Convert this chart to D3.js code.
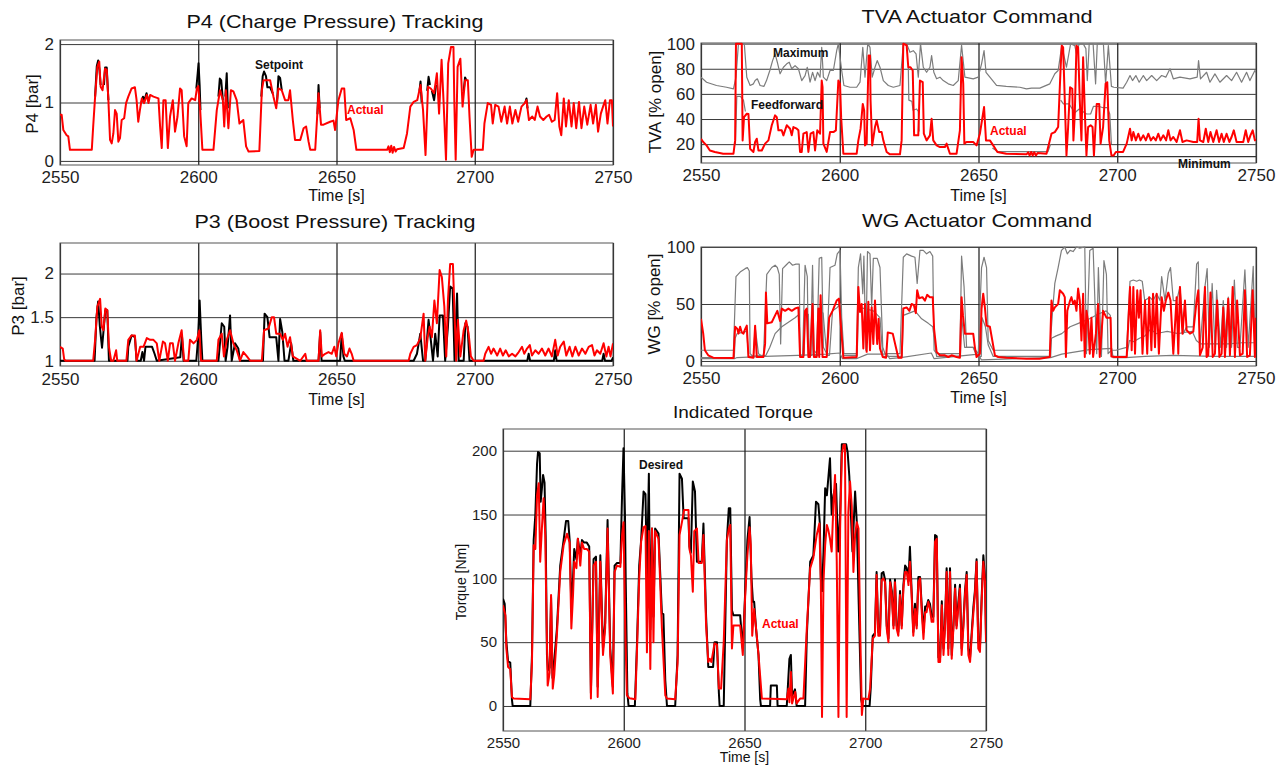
<!DOCTYPE html>
<html>
<head>
<meta charset="utf-8">
<script src="https://cdn.jsdelivr.net/npm/d3@7"></script>
<style>
  body { margin: 0; background: #fff; }
  text { font-family: "Liberation Sans", Arial, sans-serif; }
</style>
</head>
<body>
<div id="chart"></div>
<script>
// Data, [time s, value]

var timeTicks = [2550, 2600, 2650, 2700, 2750];
var p4Ticks = [0, 1, 2];
var p3Ticks = [1, 1.5, 2];
var tvaTicks = [20, 40, 60, 80, 100];
var wgTicks = [0, 50, 100];
var torqueTicks = [0, 50, 100, 150, 200];

var p4Actual = [[2550,0.79],[2550.6,0.79],[2551.2,0.53],[2552.4,0.44],[2553,0.42],[2553.6,0.19],[2561.5,0.19],[2562,0.59],[2562.7,1.1],[2563.5,1.61],[2564.2,1.7],[2564.7,1.27],[2565.4,1.21],[2566.3,1.58],[2566.9,1.56],[2567.5,1.04],[2568.1,0.36],[2568.7,0.30],[2569.3,0.47],[2569.9,0.87],[2570.5,0.81],[2571.1,0.33],[2571.7,0.39],[2572.3,0.70],[2573.2,0.73],[2573.9,0.99],[2574.7,1.10],[2575.9,1.24],[2577.1,1.26],[2577.7,1.04],[2578.3,0.67],[2578.9,0.87],[2579.6,1.07],[2580.4,0.99],[2581.4,1.13],[2582,0.99],[2582.6,1.13],[2583.8,1.10],[2585.6,1.07],[2586.2,0.59],[2586.8,0.22],[2587.4,1.04],[2588.2,1.04],[2589,0.22],[2589.8,0.76],[2590.8,1.04],[2591.6,0.50],[2592.5,0.76],[2593.4,1.24],[2594,1.21],[2594.9,0.42],[2595.8,0.25],[2596.4,0.99],[2597.6,1.07],[2598.9,1.04],[2599.5,1.24],[2600,1.28],[2600.7,0.87],[2601.5,0.19],[2605.5,0.19],[2606.7,0.87],[2607.9,1.21],[2608.9,1.04],[2609.4,0.59],[2610,1.21],[2610.9,0.56],[2611.8,1.21],[2612.7,1.19],[2613.9,1.04],[2614.9,0.64],[2616.3,0.70],[2617.3,0.25],[2618.2,0.16],[2622.1,0.17],[2623,1.21],[2623.6,1.38],[2626,1.38],[2627.2,1.10],[2628.2,0.90],[2629,1.24],[2630.2,1.21],[2631.4,1.04],[2632.6,1.04],[2633.2,1.21],[2634.2,0.70],[2635,0.36],[2636.9,0.36],[2638.1,0.56],[2639,0.59],[2639.9,0.33],[2640.5,0.19],[2642.3,0.19],[2643.5,1.16],[2644.4,0.62],[2645.3,0.62],[2647.7,0.67],[2648.9,0.69],[2649.5,0.53],[2650.7,1.04],[2651.9,1.24],[2652.8,1.24],[2653.5,0.70],[2655,0.73],[2656.2,0.53],[2657.2,0.19],[2668.3,0.19],[2668.8,0.25],[2669.3,0.15],[2669.8,0.26],[2670.3,0.14],[2670.8,0.24],[2671.4,0.16],[2671.9,0.2],[2674.3,0.22],[2675.5,0.47],[2676.7,0.93],[2677.9,1.01],[2679.2,1.04],[2680.4,1.30],[2681.3,0.87],[2682.2,0.10],[2683.1,1.27],[2684.1,1.24],[2685.3,1.16],[2686.3,1.5],[2687.1,0.81],[2688,1.73],[2688.7,1.04],[2689.6,0.02],[2690.4,1.67],[2691.4,1.95],[2692.3,1.95],[2692.6,1.04],[2693.1,0.02],[2693.8,1.61],[2694.8,1.75],[2695.6,0.93],[2696.5,1.38],[2697.5,1.38],[2698.1,0.76],[2698.9,0.07],[2699.6,0.19],[2702.9,0.19],[2703.5,0.64],[2704.7,0.99],[2705.9,0.96],[2706.5,0.64],[2707.4,0.96],[2708.6,0.93],[2709.6,0.67],[2710.8,0.93],[2711.7,0.64],[2712.7,0.93],[2713.6,0.64],[2714.7,0.87],[2715.7,0.67],[2716.9,0.93],[2718.1,0.99],[2718.7,1.04],[2719.6,0.70],[2720.8,0.76],[2721.7,0.70],[2722.7,0.93],[2723.6,0.76],[2724.8,0.70],[2726,0.76],[2726.9,0.79],[2727.9,0.67],[2728.9,0.70],[2729.8,1.16],[2730.6,0.59],[2731.3,0.44],[2732.2,1.07],[2733,0.59],[2734,1.04],[2735,0.59],[2735.8,0.99],[2736.7,0.56],[2737.7,1.01],[2738.6,0.56],[2739.6,0.93],[2740.7,0.62],[2741.9,0.96],[2742.8,0.64],[2743.8,0.96],[2744.6,0.50],[2745.6,0.81],[2746.4,0.93],[2747.2,1.04],[2748,0.64],[2748.9,1.04],[2749.6,1.04],[2750,0.59]];

// setpoint: only the pieces that show above / beside the actual trace
var p4SetpointParts = [
  [[2562.7,1.1],[2563.3,1.62],[2563.8,1.72],[2564.3,1.55],[2564.7,1.3]],
  [[2565.9,1.3],[2566.3,1.6],[2566.9,1.6],[2567.5,1.04]],
  [[2579.4,1.0],[2580,1.1],[2580.5,1.03],[2581.3,1.16],[2582,1.03]],
  [[2599.3,1.24],[2599.8,1.5],[2600.1,1.67],[2600.5,1.3],[2600.8,0.87]],
  [[2607.3,1.1],[2607.8,1.41],[2608.3,1.38],[2608.9,1.04]],
  [[2609.8,1.1],[2610.3,1.5],[2610.7,0.9]],
  [[2622.8,1.1],[2623.3,1.45],[2623.8,1.53],[2624.5,1.45],[2625,1.26],[2626,1.26],[2627,1.15]],
  [[2628.5,1.0],[2629,1.45],[2629.6,1.42],[2630.2,1.21]],
  [[2643.1,0.8],[2643.5,1.3],[2643.9,0.9]],
  [[2680,1.2],[2680.4,1.36],[2680.8,1.0]],
  [[2682.8,1.2],[2683.3,1.44],[2683.8,1.3]],
  [[2684.5,1.2],[2685.3,1.04],[2686,1.3]],
  [[2696,1.2],[2696.5,1.43],[2697,1.38]],
  [[2718.3,1.0],[2718.7,1.07],[2719.1,0.9]]
];

var p3Actual = [[2550,1.16],[2551,1.14],[2551.5,1.02],[2552,1.0],[2562,1.0],[2562.7,1.24],[2563.5,1.62],[2564.5,1.71],[2565.1,1.39],[2565.7,1.35],[2566.4,1.6],[2567.1,1.58],[2567.7,1.16],[2568.5,1.0],[2569.3,1.0],[2570.3,1.12],[2570.7,1.0],[2574,1.0],[2574.7,1.24],[2575.9,1.29],[2577.1,1.29],[2577.7,1.0],[2579,1.16],[2580.2,1.16],[2581.4,1.26],[2582.6,1.24],[2583.8,1.24],[2585,1.2],[2585.9,1.0],[2587.2,1.22],[2588,1.2],[2589,1.0],[2589.8,1.2],[2590.8,1.2],[2591.6,1.0],[2592.8,1.2],[2594,1.35],[2594.9,1.0],[2596.4,1.0],[2597,1.24],[2598.3,1.2],[2599.5,1.24],[2600.4,1.35],[2601,1.0],[2606.7,1.0],[2607.3,1.24],[2608.5,1.31],[2609.3,1.05],[2610.3,1.24],[2611.5,1.35],[2612.7,1.2],[2613.9,1.12],[2615.1,1.0],[2616.3,1.1],[2617.6,1.05],[2618.8,1.0],[2623,1.0],[2623.8,1.35],[2625.4,1.37],[2626.6,1.5],[2627.4,1.5],[2628.2,1.31],[2629.6,1.31],[2630.6,1.24],[2631.4,1.31],[2632.3,1.16],[2633.2,1.27],[2634.2,1.05],[2636.9,1.0],[2638.7,1.08],[2639.2,1.0],[2643.5,1.0],[2644.1,1.35],[2644.7,1.05],[2645.9,1.08],[2647.1,1.1],[2648.3,1.08],[2649.2,1.16],[2649.9,1.05],[2650.7,1.2],[2651.9,1.32],[2652.8,1.08],[2653.8,1.05],[2654.7,1.14],[2655.5,1.08],[2656.2,1.0],[2676.1,1.0],[2676.7,1.08],[2677.9,1.16],[2679.1,1.18],[2680.3,1.26],[2681.5,1.54],[2682.1,1.0],[2683,1.27],[2683.7,1.39],[2684.5,1.27],[2685.4,1.69],[2686.3,1.43],[2687.3,2.04],[2688.1,1.96],[2689,1.62],[2689.7,1.05],[2690.3,1.69],[2691.1,2.11],[2692.1,2.11],[2692.7,1.54],[2693.3,1.0],[2693.9,1.47],[2694.8,1.05],[2696,1.35],[2696.9,1.46],[2697.8,1.31],[2698.6,1.05],[2699.6,1.0],[2703.2,1.0],[2703.8,1.08],[2705,1.16],[2705.9,1.08],[2706.8,1.14],[2708.1,1.06],[2709.2,1.14],[2710.2,1.06],[2711.2,1.12],[2712.3,1.05],[2713.5,1.08],[2714.7,1.05],[2715.9,1.1],[2717.1,1.16],[2717.9,1.08],[2718.9,1.14],[2719.9,1.18],[2720.7,1.06],[2721.9,1.12],[2723.1,1.08],[2724.3,1.14],[2725.5,1.06],[2726.7,1.14],[2727.9,1.05],[2729.1,1.24],[2730,1.06],[2730.9,1.16],[2732.2,1.22],[2733.1,1.06],[2734.3,1.16],[2735.3,1.05],[2736.4,1.16],[2737.6,1.06],[2738.8,1.14],[2740,1.08],[2741.2,1.16],[2742.4,1.18],[2743.3,1.06],[2744.2,1.12],[2745.4,1.08],[2746.6,1.2],[2747.6,1.05],[2748.4,1.16],[2749.1,1.05],[2750,1.2]];

var p3Setpoint = [[2550,1.0],[2562.5,1.0],[2563.2,1.5],[2563.8,1.68],[2564.4,1.4],[2564.8,1.27],[2565.2,1.15],[2565.9,1.4],[2566.4,1.58],[2567.1,1.58],[2567.7,1.0],[2574.4,1.0],[2574.7,1.16],[2575.9,1.29],[2577.1,1.27],[2577.7,1.0],[2579.2,1.0],[2579.8,1.1],[2580.4,1.0],[2580.9,1.16],[2582.1,1.16],[2583.3,1.16],[2584.2,1.08],[2585,1.0],[2593.5,1.04],[2594.1,1.29],[2594.7,1.0],[2599.3,1.0],[2599.9,1.24],[2600.5,1.69],[2601.1,1.24],[2601.5,1.0],[2607.3,1.0],[2608.5,1.43],[2609.4,1.39],[2609.9,1.0],[2610.6,1.16],[2611.5,1.52],[2612.1,1.0],[2613.3,1.2],[2614.5,1.14],[2615.1,1.0],[2623.4,1.0],[2624,1.54],[2625,1.5],[2625.8,1.27],[2627,1.27],[2628.2,1.27],[2629,1.0],[2629.6,1.48],[2630.4,1.33],[2631.2,1.0],[2632.6,1.0],[2633.6,1.2],[2634.4,1.0],[2643.5,1.0],[2644.1,1.33],[2644.6,1.0],[2651.3,1.0],[2651.9,1.31],[2652.5,1.05],[2653,1.0],[2677.9,1.0],[2679.1,1.08],[2680.3,1.31],[2681.3,1.0],[2682.1,1.0],[2683.3,1.47],[2684.1,1.24],[2684.9,1.0],[2685.7,1.31],[2686.6,1.05],[2687.3,1.52],[2688.5,1.52],[2689.3,1.0],[2690.3,1.39],[2691.1,1.85],[2692,1.83],[2692.7,1.0],[2693.6,1.77],[2694.2,1.0],[2696,1.0],[2696.6,1.43],[2697.4,1.39],[2698.1,1.0],[2719,1.0],[2719.5,1.08],[2720,1.0],[2728.6,1.0],[2729.1,1.12],[2729.6,1.0],[2746.1,1.0],[2746.6,1.08],[2747.1,1.0],[2749.5,1.0],[2750,1.04]];

var tvaActual = [[2550,24.3],[2550.8,21.7],[2552,19],[2553.2,15],[2555,13.8],[2558,12.4],[2561.7,12.4],[2562.3,23],[2562.6,100],[2564.7,100],[2565,23],[2565.5,41.5],[2566.5,44.2],[2567.1,44],[2567.7,16.4],[2568.9,13.8],[2569.5,21.7],[2570.1,24.3],[2570.7,15],[2571.9,15],[2573.1,20.4],[2574.3,23],[2575.5,35],[2576.7,42.9],[2577.3,41.5],[2577.9,31],[2579.1,31],[2579.7,27],[2580.9,35],[2582.1,32.3],[2582.7,27],[2583.3,33.6],[2584.5,32.3],[2585.1,31],[2585.7,13.8],[2586.3,13.8],[2586.9,28.3],[2588.1,29.6],[2588.7,13.8],[2589.5,28.3],[2590.5,29.6],[2591.1,15],[2591.9,31],[2592.9,28.3],[2593.5,70.6],[2593.8,65.3],[2594.1,20.4],[2595.3,13.8],[2596.5,29.6],[2597.7,29.6],[2598.6,31],[2599.5,70.6],[2600.1,68],[2600.5,41.5],[2601.3,12.4],[2606.1,12.4],[2606.7,23],[2607.5,32.3],[2608.3,52],[2608.8,46.8],[2609.1,19],[2609.7,20.4],[2610.4,90.5],[2610.9,90.5],[2611.1,54.8],[2611.7,19],[2612.7,33.6],[2613.3,38.9],[2614.2,29.6],[2615.1,29.6],[2615.7,23],[2616.9,13.8],[2618.1,11.9],[2621.7,11.9],[2622.3,23],[2622.9,100],[2624.1,98.7],[2624.7,81.2],[2625.5,81.2],[2626.3,78.6],[2626.8,27],[2627.7,27],[2628.3,27],[2628.9,70.6],[2629.9,69.3],[2630.3,28.3],[2631.3,23],[2632.5,27],[2633.1,40.2],[2633.7,23],[2634.9,19],[2636.1,17.7],[2637.9,17.7],[2638.5,20.4],[2639.7,12.4],[2642.1,12.4],[2643.3,31],[2643.9,89.2],[2644.5,68],[2644.9,20.4],[2645.7,21.7],[2648.1,21.7],[2649.3,19],[2650.5,28.3],[2652,49.5],[2652.7,23],[2654.1,23],[2655.3,19],[2656.8,13.8],[2660,12.4],[2667.3,11.9],[2667.9,13.5],[2668.4,11],[2669,13.8],[2669.5,11],[2670.1,13.5],[2670.7,11],[2671.3,13],[2674.5,12.4],[2676.3,28.3],[2677.5,29.6],[2678.7,33.6],[2679.6,81],[2680,98.4],[2680.5,97],[2681.1,54.8],[2681.7,11],[2682.3,33.6],[2683,65.3],[2683.8,64],[2684.2,23],[2684.7,44.2],[2685.3,98.4],[2685.9,97],[2686.5,54.8],[2687.1,23],[2687.7,89.2],[2688.3,46.8],[2688.9,11],[2689.5,33.6],[2690.4,35],[2691.1,33.6],[2691.6,11],[2692.6,52],[2693.5,52],[2694,20.4],[2694.9,33.6],[2695.8,68],[2696.4,69.3],[2697.1,23],[2697.9,11],[2698.7,11],[2699.5,13.8],[2702.1,13.8],[2703.4,20.4],[2704.6,32.3],[2705.2,23],[2705.8,29.6],[2706.7,23],[2707.6,28.3],[2708.4,23],[2709.4,27],[2710.3,23],[2711.2,28.3],[2712.1,23],[2713,25.7],[2713.9,23],[2714.8,28.3],[2715.6,23],[2716.6,27],[2717.6,23],[2718.4,31],[2719.2,23],[2720.2,25.7],[2721.4,21.7],[2722.6,31],[2723.5,21.7],[2725,23],[2727.4,21.7],[2728.8,21.7],[2729.3,40.2],[2729.8,23],[2731,21.7],[2731.9,32.3],[2732.8,21.7],[2733.6,29.6],[2734.6,21.7],[2735.8,31],[2736.7,21.7],[2737.6,28.3],[2738.4,21.7],[2739.4,28.3],[2740.4,21.7],[2741.2,25.7],[2742,31],[2743,21.7],[2744.2,21.7],[2745.4,21.7],[2746.3,31],[2747.2,21.7],[2748,27],[2748.8,31],[2749.6,23],[2750,24]];

var tvaMaximum = [[2550,73.3],[2552,69.3],[2555.6,66.7],[2559.2,65.3],[2561.7,64],[2562.6,73.3],[2563.5,100],[2565.6,100],[2566.5,73.3],[2567.7,66.7],[2568.9,68],[2569.5,70.6],[2570.3,72],[2571.3,66.7],[2572.7,66],[2573.6,70.6],[2574.8,78.6],[2575.8,86.5],[2576.7,91.8],[2577.5,85.2],[2578.5,76],[2579.7,81.2],[2580.9,83.9],[2581.8,85.2],[2582.7,80],[2583.9,82.5],[2585.1,80],[2586.3,70.6],[2587.5,74.6],[2588.3,81.2],[2589.3,69.3],[2590.2,77.2],[2591.1,70.6],[2592,77.2],[2592.9,73.3],[2593.5,97],[2594.1,73.3],[2595.3,70.6],[2596.5,78.6],[2597.7,78.6],[2598.9,94.4],[2599.5,100],[2600.7,78.6],[2601.5,66.7],[2603.7,65.3],[2606.1,65.3],[2607.3,69.3],[2608.3,97],[2609.1,73.3],[2610.1,100],[2610.9,97],[2611.7,73.3],[2612.7,81.2],[2613.5,86.5],[2614.5,81.2],[2615.7,70.6],[2617.5,66.7],[2619.3,65.3],[2621.7,66.7],[2622.9,100],[2624.1,100],[2625.3,93.1],[2626.5,94.4],[2627.5,91.8],[2628.3,73.3],[2629.1,100],[2630.1,81.2],[2631.3,77.2],[2632.5,81.2],[2633.1,90.5],[2633.9,77.2],[2634.9,72],[2636.1,73.3],[2637.3,70.6],[2639.1,68],[2640.9,66.7],[2642.7,70.6],[2643.9,98.7],[2645.1,73.3],[2648.1,72],[2649.9,73.3],[2651.1,83.9],[2652,94.4],[2652.7,77.2],[2654.1,73.3],[2656.5,66.7],[2660,66],[2664.9,65.3],[2667.3,64],[2669.1,64.6],[2672.1,64.6],[2675.7,68],[2677.5,76],[2678.7,78.6],[2680,98.4],[2681.7,81.2],[2683.2,100],[2684.7,98.4],[2685.3,91.8],[2686.3,100],[2687.7,100],[2688.7,96],[2689.2,70.6],[2689.9,100],[2691.3,100],[2692.2,68],[2692.8,100],[2695,100],[2695.8,68],[2696.8,98.4],[2697.9,66],[2698.8,65.3],[2702.1,64.6],[2703.4,69.3],[2704.6,74.6],[2705.5,70.6],[2706.7,74.6],[2707.9,69.3],[2709.4,74.6],[2710.6,70.6],[2712.4,74.6],[2714.2,70.6],[2716,74.6],[2717.5,73.3],[2719,80],[2720.2,72],[2722.6,73.3],[2726.2,72],[2728.8,73.3],[2729.3,86.5],[2730,72],[2732.2,77.2],[2733.4,69.3],[2735.2,75.9],[2737,69.3],[2739.4,74.6],[2741.2,70.6],[2743,77.2],[2744.8,69.3],[2746.6,77.2],[2747.8,70.6],[2749.6,78.6],[2750,77]];

var tvaFeedforwardParts = [
  [[2562.4,20],[2562.9,58],[2564.2,58],[2565.3,55],[2566,46]],
  [[2624.7,81],[2624.9,55],[2626,54],[2626.4,47],[2627.7,48],[2628.3,46],[2628.6,30]],
  [[2679.6,55],[2680.6,52],[2682.6,52],[2684.7,45],[2686.3,48],[2688.9,44],[2690.4,44],[2691.4,50],[2693.5,50],[2694.9,49],[2696.4,49],[2697.3,44],[2697.9,20]],
  [[2655,17],[2657,14],[2675,14],[2676,20]]
];

var tvaMinimum = [[2550,10],[2750,10]];

var wgActual = [[2550,37],[2550.8,24],[2551.4,9.4],[2552.6,5],[2554.4,2.9],[2561.7,2.6],[2562.3,30],[2563.1,28],[2563.5,24],[2564.1,30],[2564.7,25],[2565.3,24],[2565.9,28],[2566.5,31],[2567.1,3.5],[2568.9,2.9],[2569.5,31],[2570.1,3.5],[2572.5,3.5],[2573.1,15],[2573.4,60],[2573.9,33],[2575.5,34],[2576.7,40],[2577.5,44],[2578.5,35],[2579.1,46],[2580.3,44],[2581.5,46],[2582.7,44],[2583.9,46],[2585.1,47],[2585.7,3.5],[2586.9,3.5],[2587.5,44],[2588.1,46],[2588.7,3.5],[2589.3,3.5],[2590.2,50],[2590.7,3.5],[2591.7,3.5],[2592.3,46],[2592.6,3.5],[2593.1,57.6],[2593.8,3.5],[2595.3,3.5],[2596.2,38],[2597.4,44],[2598.9,53],[2599.7,54.7],[2600.3,35],[2601.3,2.9],[2606.1,3.5],[2606.7,65],[2607.3,43],[2607.9,50],[2608.5,11],[2609.1,50],[2609.7,8],[2610.3,52],[2610.9,9.4],[2611.5,47],[2612.1,15],[2612.7,53],[2613.5,15],[2614,37],[2614.5,11],[2615.5,3.5],[2616.7,2.9],[2617.3,25],[2619.1,24],[2621.1,2.9],[2622.3,2.9],[2622.9,46],[2624.1,47],[2625.1,44],[2625.9,50],[2626.7,49],[2627.4,42],[2627.9,62],[2628.6,55],[2629.8,56],[2630.7,53],[2631.5,58],[2632.5,56],[2633.5,56],[2634,28],[2634.9,8],[2636.1,5],[2637.9,5],[2639.1,3.5],[2640.3,5],[2642.1,3.5],[2643.3,2.9],[2643.9,56],[2644.4,40],[2645.1,24],[2648.1,24],[2648.7,12],[2649.3,3.5],[2650.5,6.4],[2651.1,46],[2651.7,59],[2652.3,47],[2652.9,31],[2654.1,30],[2655.3,13.5],[2655.9,5],[2657.1,3.5],[2660,2.9],[2667.3,2],[2672,2],[2675.7,3.5],[2676.3,53],[2676.9,44],[2677.5,47],[2678.7,50],[2679.3,62],[2680.5,59],[2681.1,56],[2681.5,3.5],[2682,44],[2683,53],[2683.5,56],[2684.1,50],[2684.7,53],[2685.3,44],[2685.9,63.5],[2686.5,53],[2687.1,18],[2687.7,59],[2688.3,3.5],[2688.9,44],[2689.5,35],[2690.1,6.4],[2690.7,38],[2691.3,3.5],[2692.3,24],[2693.1,50],[2693.7,3.5],[2694.9,44],[2696.1,38],[2697.6,38],[2697.9,4],[2699.2,3.5],[2703.4,3.5],[2704.6,65],[2705.2,9.4],[2705.8,65],[2706.4,6.4],[2707.2,62],[2707.8,38],[2708.4,62],[2709.1,6.4],[2710,53],[2710.8,6.4],[2711.5,56],[2712.3,9.4],[2712.9,59],[2713.6,12],[2714.2,59],[2715,6.4],[2716,56],[2716.8,44],[2717.5,53],[2718.4,60],[2719.2,53],[2720.2,6.4],[2721.4,56],[2722,6.4],[2722.6,65],[2723.5,24],[2724.4,53],[2725,27],[2726.2,24],[2727.4,25.7],[2728.6,53],[2729.2,62],[2729.8,5],[2730.8,12],[2731.6,65],[2732.2,3.5],[2732.8,5],[2733.6,60],[2734.4,3.5],[2735.2,6.4],[2736,53],[2736.8,3.5],[2737.6,6.4],[2738.2,47],[2738.8,3.5],[2740,54.7],[2740.6,5],[2741.6,65],[2742.4,3.5],[2743.2,53],[2744.2,5],[2745.2,6.4],[2746,62],[2746.8,3.5],[2747.8,5],[2748.8,62],[2749.6,3.5],[2750,38]];

var wgMaximum = [[2550,9.4],[2561.7,9.4],[2562.6,74],[2564.1,78],[2565.9,81],[2566.7,82],[2567.4,79],[2567.7,6.4],[2568.9,3.5],[2569.5,30],[2570.7,6.4],[2572.5,3.5],[2573.7,76],[2575.5,82],[2576.7,84],[2577.5,82],[2578.2,76],[2578.7,15],[2579.4,81],[2580.6,84],[2581.8,87],[2583,84],[2584.2,85],[2585.4,85],[2585.7,6.4],[2586.6,3.5],[2587.5,84],[2588.3,74],[2588.7,6.4],[2589.5,6.4],[2590.2,84],[2590.7,9.4],[2591.7,6.4],[2592.6,90],[2593.5,91],[2594.1,12],[2595.3,6.4],[2596.5,82],[2598.3,84],[2599.1,94],[2600.1,97],[2600.7,38],[2601.5,6.4],[2606.1,6.4],[2606.7,82],[2607.5,94],[2608.3,59],[2608.7,92],[2609.4,9.4],[2610,96],[2610.9,94],[2611.5,47],[2612.1,90],[2613.5,90],[2614.5,82],[2615.5,12],[2616.3,6.4],[2621.7,6.4],[2622.9,91],[2624.1,94],[2625.9,92],[2627.1,91],[2627.9,68],[2628.9,97],[2630.1,97],[2631.3,94],[2632.5,96],[2633.5,92],[2634,9.4],[2634.9,6.4],[2643.3,6.4],[2643.9,92],[2644.8,65],[2645.7,12],[2648.1,12],[2649.9,6.4],[2651.1,82],[2652,91],[2652.9,82],[2653.5,18],[2655.3,9.4],[2675.7,9.4],[2676.7,44],[2677.5,68],[2678.7,82],[2679.9,97],[2681.1,100],[2682,94],[2683,97],[2684.1,96],[2685.3,100],[2686.5,99],[2688.3,100],[2688.9,6.4],[2690.1,97],[2691.3,99],[2692.6,6.4],[2693.2,82],[2694.3,4],[2695.2,88],[2696.1,76],[2696.7,6.4],[2697.9,9.4],[2699.5,9.4],[2703.4,12],[2704.6,70],[2705.8,71],[2707,70],[2708,71],[2709,70],[2709.9,53],[2711.7,56],[2712.9,53],[2714.2,59],[2715.4,53],[2716,74],[2717.2,53],[2718.4,77],[2719.2,82],[2720.2,53],[2721.4,53],[2722.6,65],[2723.8,24],[2725,30],[2727.4,30],[2728.6,85],[2729.2,87],[2729.8,12],[2731.6,65],[2732.4,81],[2733.2,12],[2734.2,68],[2735.2,12],[2735.8,62],[2737.2,12],[2738.2,53],[2739.4,12],[2740,56],[2741.2,12],[2742.2,71],[2743.3,12],[2744.2,12],[2746,80],[2747.2,12],[2749,83],[2749.6,12],[2750,50]];

var wgFeedforward = [[2550,3],[2562,3],[2562.3,20],[2563,24],[2566.5,26],[2567.1,4],[2573.4,5],[2574.8,12],[2576.7,24],[2579.1,30],[2581.5,34],[2583.9,38],[2585.4,41],[2585.7,5],[2587.2,5],[2587.5,40],[2588.7,41],[2589,5],[2590,5],[2590.2,42],[2590.6,5],[2592.4,5],[2592.6,44],[2594,42],[2595.3,5],[2596.3,5],[2597.4,44],[2599.1,47],[2600.3,50],[2601.3,5],[2606.3,5],[2606.7,47],[2609.1,46],[2612.1,44],[2614.5,38],[2615.5,4],[2622.5,4],[2622.9,40],[2625,42],[2627.1,44],[2629.5,37],[2631.9,33],[2633.5,30],[2634.9,4],[2643.5,4],[2643.9,40],[2645,12],[2648,12],[2649.5,4],[2651,4],[2651.3,38],[2652.5,30],[2653.5,14],[2655.3,4],[2676,4],[2676.3,20],[2678,22],[2680,24],[2683,30],[2686,33],[2690,37],[2693,41],[2696,44],[2697.5,40],[2697.9,4],[2703.4,4],[2704.4,18],[2706,17],[2708,20],[2710,22],[2712,28],[2714,24],[2716,25],[2718,26],[2720,25],[2722,24],[2724,25],[2727,26],[2728.5,18],[2730,15],[2735,15],[2740,15],[2745,16],[2750,16]];

var wgMinimum = [[2550,2],[2562,2],[2563,3],[2573,4],[2585,5],[2595,6],[2600,7],[2601,2],[2606,2],[2610,6],[2617,6],[2618,2],[2622,3],[2633,7],[2634,2],[2650,6],[2651,1],[2676,3],[2680,6],[2690,10],[2698,11],[2698.5,3],[2703,3],[2710,4],[2720,5],[2735,4],[2750,4]];

var torqueActual = [[2550,79],[2551,71],[2551.4,45],[2552.1,30.6],[2553,29],[2553.7,7],[2554.4,5.8],[2561.3,5.2],[2562,34],[2562.7,126],[2563.4,123],[2564.1,165],[2564.8,174.5],[2565.4,113],[2566.1,139],[2566.8,162.7],[2567.5,134],[2567.9,82],[2568.5,16],[2569.3,26],[2569.9,87],[2570.6,13.6],[2571.2,24],[2572.3,55],[2573.7,105],[2575.1,126],[2576.5,135],[2577.6,128],[2578.3,60.7],[2579,87],[2579.5,113],[2580.4,108],[2581,131],[2582,110],[2582.7,128],[2583.6,123],[2584.7,123],[2585.7,121],[2586.4,5.8],[2587.5,110],[2588.5,113],[2589.2,7],[2590.3,113],[2591.4,40],[2592.3,60.7],[2593.3,139],[2594.4,40],[2595.5,9.7],[2596.2,105],[2597.2,110],[2598.6,109],[2599.3,134],[2599.9,144],[2600.6,63],[2601.3,8.4],[2602.4,6],[2604.8,5.2],[2605.5,45],[2606.4,100],[2607.2,129],[2608.2,140],[2609,141],[2609.6,42],[2610.4,137],[2611,29],[2611.7,139],[2612.3,50],[2613,137],[2614.4,131],[2615.8,61],[2617.2,8.4],[2617.9,5.8],[2621.3,5.2],[2622.3,34],[2623.1,134],[2624.1,144],[2625,153.6],[2626.8,153.6],[2627.2,123],[2627.8,118],[2628.6,89.5],[2629.2,137],[2630.3,139],[2631,112],[2632.3,112],[2633,134],[2634.1,63],[2635,34.5],[2635.6,37],[2636.3,34.5],[2637.6,49],[2638.6,48],[2639.4,13.6],[2640.3,13.6],[2641.4,50],[2642.7,130],[2643.5,139],[2644.1,141.8],[2644.8,45],[2645.4,63],[2648.2,63],[2649.3,40],[2650.3,87],[2651.2,118],[2652.1,140],[2652.6,126],[2653.2,55],[2654,76],[2654.8,60.7],[2655.8,40],[2657.2,5.8],[2667.5,5.2],[2668.2,13.6],[2668.6,3],[2669.2,26.7],[2669.7,2],[2671,11],[2671.6,2],[2673,5.8],[2674.4,5.8],[2675.8,60.7],[2677.2,108],[2678.5,116],[2679.9,134],[2681,143],[2681.6,97],[2682.1,-8.6],[2682.7,97],[2683.4,126],[2684.1,141.8],[2684.7,138],[2685.4,131],[2686.1,121],[2686.8,157],[2687.5,181],[2688.2,113],[2688.9,-8.6],[2689.6,139],[2690.3,196.7],[2691,204.6],[2691.6,204.6],[2692.3,-8.6],[2693,152],[2693.7,175.8],[2694.4,157],[2695.1,105],[2695.8,134],[2696.5,144],[2697.2,139],[2697.9,60.7],[2698.6,-7],[2699.2,5.8],[2701.3,5.2],[2702,13.6],[2703.1,52.8],[2704,55],[2704.7,102.6],[2705.4,55],[2706.1,55],[2706.8,98.6],[2707.5,100],[2708.2,97],[2708.9,60.7],[2709.6,50],[2710.3,97],[2711,87],[2711.7,60.7],[2712.3,97],[2713,60.7],[2713.7,55],[2714.4,87],[2715.1,60.7],[2715.8,92],[2716.5,105],[2717.2,105],[2717.9,94.7],[2718.5,113],[2719.2,87],[2719.9,55],[2720.6,76],[2721.3,60.7],[2722,97],[2722.7,100],[2723.4,73.5],[2724.1,52.5],[2724.8,73.5],[2725.4,73.5],[2726.1,81.6],[2726.8,76],[2727.5,65.9],[2728.2,65.9],[2728.9,128.7],[2729.6,131],[2730.3,34.5],[2731,34.5],[2731.7,79],[2732.4,40],[2733,60.7],[2733.7,105],[2734.4,40],[2735.1,105],[2735.8,37],[2736.5,60.7],[2737.2,92],[2737.8,60.7],[2738.5,76],[2739.2,92],[2739.9,40],[2740.6,60.7],[2741.3,87],[2742,102.6],[2742.7,40],[2743.4,34.5],[2744.1,55],[2744.8,73.5],[2745.4,87],[2746.1,113],[2746.8,45],[2747.5,42.4],[2748.2,81.6],[2748.9,113],[2749.6,97],[2750,50]];

var torqueDesired = [[2550,84],[2550.7,80],[2551.4,50],[2552.1,35],[2553,34],[2553.7,5],[2554,0],[2561.3,0],[2562,40],[2562.7,130],[2563.4,150],[2564.1,190],[2564.5,199],[2565.2,198],[2565.6,160],[2566.1,170],[2566.6,181],[2567.2,175],[2567.7,130],[2568.2,40],[2568.6,28],[2569.3,30],[2569.9,85],[2570.5,22],[2571.2,35],[2572.3,60],[2573.7,110],[2575.1,130],[2576.1,145],[2577,145],[2577.6,130],[2578.3,78],[2579,100],[2579.5,123],[2580.4,115],[2581,131],[2582,118],[2582.7,130],[2583.6,128],[2584.7,128],[2585.7,125],[2586.4,10],[2587.5,115],[2588.5,117],[2589.2,15],[2590.3,118],[2591.4,45],[2592.3,65],[2593.3,145.7],[2594.4,45],[2595.5,15],[2596.2,110],[2597.2,112],[2598.6,112],[2599.3,165],[2599.9,202],[2600.5,150],[2600.8,100],[2601.5,10],[2602,0],[2604.6,0],[2605.5,50],[2606.4,110],[2607.2,130],[2608.2,168],[2609,166],[2609.6,100],[2610.4,182],[2611,60],[2611.7,139],[2612.3,70],[2613,139],[2614.4,135],[2615.8,72.5],[2616.4,72],[2617.2,20],[2617.9,0],[2621.3,0],[2622.3,40],[2623.1,182],[2624.1,178],[2624.8,147],[2626.8,147],[2627.2,125],[2627.8,120],[2628.6,175.8],[2629.5,168],[2630.3,113],[2632.3,113],[2633,143],[2634.1,70],[2635,30.6],[2637,30.6],[2637.6,50],[2638.6,50],[2639.4,10],[2639.7,0],[2641.4,0],[2642.7,130],[2643.5,155],[2644.1,155],[2644.8,75],[2645.4,71],[2648.2,71],[2649.3,45],[2650.3,90],[2651.2,130],[2652.1,148],[2652.9,100],[2653.5,81.6],[2654,81.6],[2654.8,60],[2655.8,40],[2656.5,5],[2656.8,0],[2660.6,0],[2660.9,16],[2663.4,16],[2663.7,0],[2667.5,0],[2668.6,37],[2669.2,40],[2669.7,8],[2670.9,13],[2671.6,0],[2675.1,0],[2675.8,55],[2677.2,113],[2678.5,118],[2679.6,160],[2680.6,158],[2681.2,143],[2681.6,100],[2682.1,90],[2682.7,120],[2683.4,170.6],[2684.1,165],[2685.4,194],[2686.1,150],[2686.8,165],[2687.9,174],[2688.8,121],[2689.6,150],[2690.3,205],[2692.1,205],[2692.7,199],[2693.4,180],[2694.7,121],[2695.8,168],[2696.5,144],[2697.3,80],[2698.3,5],[2698.9,0],[2701.8,0],[2702.3,15],[2703.1,55],[2704,57],[2704.7,105],[2705.4,58],[2706.1,58],[2706.8,104],[2707.5,105],[2708.2,99],[2708.9,63],[2709.6,53],[2710.3,99],[2711,90],[2711.7,63],[2712.3,99],[2713,63],[2713.7,58],[2714.4,90],[2715.1,63],[2715.8,95],[2716.5,110],[2717.2,108],[2717.9,98],[2718.5,124.8],[2719.2,90],[2719.9,58],[2720.6,80],[2721.3,63],[2722,101],[2722.7,101],[2723.4,78],[2724.1,58],[2724.8,78],[2725.4,78],[2726.1,83],[2726.8,80],[2727.5,70],[2728.2,70],[2728.9,134],[2729.6,133],[2730.3,38],[2731,38],[2731.7,82],[2732.4,45],[2733,63],[2733.7,108],[2734.4,45],[2735.1,108],[2735.8,40],[2736.5,63],[2737.2,95],[2737.8,63],[2738.5,80],[2739.2,95],[2739.9,45],[2740.6,63],[2741.3,90],[2742,105],[2742.7,45],[2743.4,38],[2744.1,58],[2744.8,78],[2745.4,90],[2746.1,115],[2746.8,50],[2747.5,46],[2748.2,85],[2748.9,118],[2749.6,100],[2750,55]];

var FONT = '"Liberation Sans", Arial, sans-serif';
var RED = "#ff0000", GRAY = "#7c7c7c";

var svg = d3.select("#chart").append("svg")
    .attr("width", 1284)
    .attr("height", 767);

function drawPanel(p, idx) {
    var x = d3.scaleLinear().domain([2550, 2750]).range([p.left, p.right]);
    var y = d3.scaleLinear().domain(p.yDomain).range([p.bottom, p.top]);
    var w = p.right - p.left, h = p.bottom - p.top;
    var g = svg.append("g");

    // horizontal grid + y tick labels
    var yAxis = g.append("g")
        .attr("transform", `translate(${p.left},0)`)
        .call(d3.axisLeft(y).tickValues(p.yTicks).tickSize(-w).tickPadding(6).tickFormat(d => String(d)));
    yAxis.select(".domain").remove();
    yAxis.attr("font-family", FONT).attr("font-size", p.fs);
    yAxis.selectAll("line").attr("stroke", "#3a3a3a").attr("stroke-width", 1);
    yAxis.selectAll("text").attr("fill", "#1e1e1e");

    // vertical grid + time tick labels
    var xAxis = g.append("g")
        .attr("transform", `translate(0,${p.bottom})`)
        .call(d3.axisBottom(x).tickValues(timeTicks).tickSize(-h).tickPadding(p.xPad).tickFormat(d => String(d)));
    xAxis.select(".domain").remove();
    xAxis.attr("font-family", FONT).attr("font-size", p.fs);
    xAxis.selectAll("line").attr("stroke", "#1a1a1a").attr("stroke-width", 1.2);
    xAxis.selectAll("text").attr("fill", "#1e1e1e");

    g.append("rect")
        .attr("x", p.left).attr("y", p.top)
        .attr("width", w).attr("height", h)
        .attr("fill", "none").attr("stroke", "#555").attr("stroke-width", 1);

    // clip
    svg.append("clipPath").attr("id", "clip" + idx)
        .append("rect").attr("x", p.left).attr("y", p.top - 1).attr("width", w).attr("height", h + 2);
    var plot = g.append("g").attr("clip-path", `url(#clip${idx})`);

    var line = d3.line().x(d => x(d[0])).y(d => y(d[1]));
    p.series.forEach(function (s) {
        var parts = s.parts || [s.data];
        parts.forEach(function (part) {
            plot.append("path")
                .attr("d", line(part))
                .attr("fill", "none")
                .attr("stroke", s.color)
                .attr("stroke-width", s.width)
                .attr("stroke-linejoin", "round");
        });
    });

    // title
    g.append("text")
        .attr("x", p.titleX).attr("y", p.titleY)
        .attr("text-anchor", "middle")
        .attr("font-size", p.titleSize)
        .attr("textLength", p.titleW)
        .attr("lengthAdjust", "spacingAndGlyphs")
        .attr("fill", "#111")
        .text(p.title);

    // x label
    g.append("text")
        .attr("x", (p.left + p.right) / 2).attr("y", p.xlabelY)
        .attr("text-anchor", "middle")
        .attr("font-size", p.xlabelSize)
        .attr("fill", "#111")
        .text("Time [s]");

    // y label
    g.append("text")
        .attr("transform", `translate(${p.ylabelX},${p.ylabelY}) rotate(-90)`)
        .attr("text-anchor", "middle")
        .attr("dy", "0.35em")
        .attr("font-size", p.ylabelSize)
        .attr("fill", "#111")
        .text(p.ylabel);

    // annotations
    (p.notes || []).forEach(function (n) {
        g.append("text")
            .attr("x", n.x).attr("y", n.y)
            .attr("font-size", 12)
            .attr("font-weight", "bold")
            .attr("fill", n.color)
            .text(n.text);
    });
}

var panels = [
    {
        title: "P4 (Charge Pressure) Tracking", titleX: 335, titleY: 28, titleW: 297, titleSize: 19,
        left: 60, right: 613, top: 40, bottom: 165, yDomain: [-0.07, 2.07], yTicks: p4Ticks,
        fs: 17, xPad: 6, xlabelY: 201, xlabelSize: 16, ylabel: "P4 [bar]", ylabelX: 32, ylabelY: 104, ylabelSize: 17,
        series: [
            { parts: p4SetpointParts, color: "#000", width: 2 },
            { data: p4Actual, color: RED, width: 2 }
        ],
        notes: [
            { text: "Setpoint", x: 255, y: 69, color: "#111" },
            { text: "Actual", x: 347, y: 114, color: RED }
        ]
    },
    {
        title: "TVA Actuator Command", titleX: 977, titleY: 23, titleW: 231, titleSize: 19,
        left: 701, right: 1256, top: 43, bottom: 163, yDomain: [5, 100.5], yTicks: tvaTicks,
        fs: 17, xPad: 6, xlabelY: 201, xlabelSize: 16, ylabel: "TVA [% open]", ylabelX: 655, ylabelY: 102, ylabelSize: 17,
        series: [
            { data: tvaMinimum, color: "#333", width: 1.2 },
            { data: tvaMaximum, color: GRAY, width: 1.2 },
            { parts: tvaFeedforwardParts, color: GRAY, width: 1.2 },
            { data: tvaActual, color: RED, width: 2 }
        ],
        notes: [
            { text: "Maximum", x: 773, y: 57, color: "#111" },
            { text: "Feedforward", x: 751, y: 109, color: "#111" },
            { text: "Actual", x: 990, y: 135, color: RED },
            { text: "Minimum", x: 1178, y: 168, color: "#111" }
        ]
    },
    {
        title: "P3 (Boost Pressure) Tracking", titleX: 335, titleY: 228, titleW: 281, titleSize: 19,
        left: 60, right: 613, top: 243, bottom: 366, yDomain: [0.94, 2.35], yTicks: p3Ticks,
        fs: 17, xPad: 7, xlabelY: 405, xlabelSize: 16, ylabel: "P3 [bar]", ylabelX: 18, ylabelY: 306, ylabelSize: 17,
        series: [
            { data: p3Setpoint, color: "#000", width: 2 },
            { data: p3Actual, color: RED, width: 2 }
        ],
        notes: []
    },
    {
        title: "WG Actuator Command", titleX: 977, titleY: 227, titleW: 230, titleSize: 19,
        left: 701, right: 1256, top: 247, bottom: 366, yDomain: [-4.4, 100], yTicks: wgTicks,
        fs: 17, xPad: 6, xlabelY: 403, xlabelSize: 16, ylabel: "WG [% open]", ylabelX: 654, ylabelY: 304, ylabelSize: 17,
        series: [
            { data: wgMinimum, color: GRAY, width: 1.2 },
            { data: wgFeedforward, color: GRAY, width: 1.2 },
            { data: wgMaximum, color: GRAY, width: 1.2 },
            { data: wgActual, color: RED, width: 2 }
        ],
        notes: []
    },
    {
        title: "Indicated Torque", titleX: 743, titleY: 418, titleW: 140, titleSize: 17,
        left: 503, right: 986, top: 429, bottom: 731, yDomain: [-19.6, 217], yTicks: torqueTicks,
        fs: 15, xPad: 6, xlabelY: 762, xlabelSize: 14, ylabel: "Torque [Nm]", ylabelX: 461, ylabelY: 582, ylabelSize: 14,
        series: [
            { data: torqueDesired, color: "#000", width: 2 },
            { data: torqueActual, color: RED, width: 2 }
        ],
        notes: [
            { text: "Desired", x: 639, y: 469, color: "#111" },
            { text: "Actual", x: 762, y: 628, color: RED }
        ]
    }
];

panels.forEach(drawPanel);
</script>
</body>
</html>
